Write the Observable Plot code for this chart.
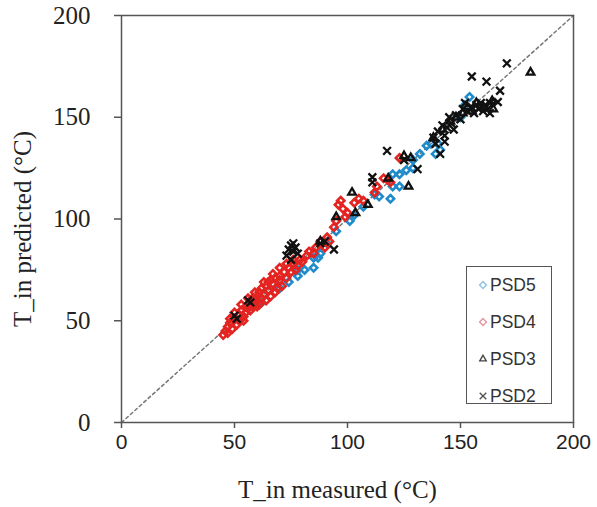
<!DOCTYPE html>
<html>
<head>
<meta charset="utf-8">
<script src="https://cdn.jsdelivr.net/npm/d3@7"></script>
<script src="https://cdn.jsdelivr.net/npm/@observablehq/plot@0.6"></script>
<style>
  html, body { margin: 0; padding: 0; background: #fff; }
  #wrap { position: relative; width: 597px; height: 507px; }
  #legend { position: absolute; left: 466px; top: 266px; width: 84px; height: 136px;
    border: 1.5px solid #555; background: #fff; font-family: "Liberation Sans", Arial, sans-serif;
    font-size: 17.5px; color: #333; }
  #legend .row { position: absolute; left: 0; height: 20px; display: flex; align-items: center; }
  #legend svg { margin-left: 11px; margin-right: 2px; }
</style>
</head>
<body>
<div id="wrap"></div>
<script>
const xTicks = [0, 50, 100, 150, 200];
const yTicks = [0, 50, 100, 150, 200];
const seriesNames = ["PSD5", "PSD4", "PSD3", "PSD2"];
const xTitle = "T_in measured (°C)";
const yTitle = "T_in predicted (°C)";

// [measured, predicted]
const psd5 = [[62,59],[70,66],[74,69],[78,72],[78,75],[81,75],[85,76],[87,81],[85,81],[88,83],[91,88],[95,94],
  [101,99],[103,102],[107,106],[112,112],[114,111],[119,110],[120,116],[123,116],[120,122],[123,122],[126,124],
  [129,125],[129,129],[132,132],[135,136],[137,137],[140,137],[139,132],[141,134],[150,150],[154,160],[152,156]];
const psd4 = [[45,43],[46,45],[47,47],[48,49],[49,46],[50,51],[51,48],[52,53],[52,50],[53,55],[54,52],[55,57],
  [55,54],[56,56],[57,59],[57,55],[58,61],[58,57],[59,58],[60,62],[60,60],[61,64],[61,58],[62,66],[62,61],[63,63],
  [64,67],[64,60],[65,65],[65,69],[66,70],[66,62],[67,68],[68,71],[68,64],[69,66],[70,72],[70,70],[71,67],[72,74],
  [73,71],[74,76],[75,74],[76,78],[77,75],[78,77],[79,80],[80,79],[82,82],[83,84],[85,83],[86,86],[88,89],[90,86],
  [91,91],[92,89],[94,96],[95,99],[96,107],[97,109],[98,105],[99,101],[100,103],[103,108],[105,110],[107,109],
  [112,113],[113,116],[116,120],[118,119],[119,118],[123,130],
  [48,51],[50,54],[53,58],[56,61],[59,64],[63,69],[67,73],[70,76],[73,78],[76,80],[47,44],[54,50],[60,57]];
const psd3 = [[88,89],[95,101],[102,113],[103.5,103],[109,107],[118,120],[125,131],[128,130],[127,116],[138,140],
  [142,144],[145.5,148],[148,150],[151,152],[153,155],[155,153],[157,157],[160,155],[164.5,154],[164,158],[181,172]];
const psd2 = [[50,52.5],[51,51],[56,60],[57,59],[73,82],[74,85],[75,87],[76,84],[77,86],[75,80],[78,83],[76,88],
  [88,88],[90,89],[94,85],[111,120.5],[111,118],[117.5,133.5],[131,124.5],[125,129],[138,140],[140,143],[141,132],
  [142,146],[143,141],[144,145],[145,150],[146,147],[148,151],[150,149],[151,154],[152,157],[153,153],[155,155],
  [156,152],[157,156],[158,154],[159,157],[160,153],[161,156],[162,154],[163,157],[155,170],[161.5,167.5],
  [166.5,157.5],[167.5,163],[170.5,176.5],[163,152],[147,144],[143,138],[139,137]];
const diagonal = [[0,0],[200,200]];

const colors = {PSD5: "#1f8bcb", PSD4: "#e42421", PSD3: "#111", PSD2: "#111"};

const chart = Plot.plot({
  width: 597, height: 507,
  marginLeft: 121, marginRight: 24, marginTop: 15, marginBottom: 85,
  x: {domain: [0, 200]},
  y: {domain: [0, 200]},
  style: {background: "#fff"},
  marks: [
    Plot.line(diagonal, {x: d => d[0], y: d => d[1], stroke: "#777", strokeWidth: 1.5, strokeDasharray: "3,3"}),
    Plot.dot(psd5, {x: d => d[0], y: d => d[1], symbol: "diamond2", r: 3.3, stroke: colors.PSD5, strokeWidth: 2.6}),
    Plot.dot(psd4, {x: d => d[0], y: d => d[1], symbol: "diamond2", r: 3.3, stroke: colors.PSD4, strokeWidth: 2.6}),
    Plot.dot(psd3, {x: d => d[0], y: d => d[1], symbol: "triangle2", r: 3.6, stroke: colors.PSD3, strokeWidth: 2.3}),
    Plot.dot(psd2, {x: d => d[0], y: d => d[1], symbol: "times", r: 3.6, stroke: colors.PSD2, strokeWidth: 2.3}),
    Plot.frame({stroke: "#555", strokeWidth: 1.5}),
    Plot.axisX({ticks: xTicks, tickSize: 6, tickPadding: 6, label: null, fontSize: 21,
      fontFamily: "Liberation Sans", stroke: "#555", strokeWidth: 1.5, color: "#222"}),
    Plot.axisY({ticks: yTicks, tickSize: 7, tickPadding: 24, label: null, fontSize: 25,
      fontFamily: "Liberation Serif", stroke: "#555", strokeWidth: 1.5, color: "#222"}),
    Plot.text([xTitle], {text: d => d, frameAnchor: "bottom", textAnchor: "middle", dx: -10, dy: 75, fontSize: 25,
      fontFamily: "Liberation Serif", fill: "#222"}),
    Plot.text([yTitle], {text: d => d, frameAnchor: "left", textAnchor: "middle", rotate: -90, dx: -99, dy: 10, fontSize: 25,
      fontFamily: "Liberation Serif", fill: "#222"})
  ]
});

const wrap = document.getElementById("wrap");
wrap.appendChild(chart);

// legend
const legend = document.createElement("div");
legend.id = "legend";
wrap.appendChild(legend);
const legendSymbols = {PSD5: ["diamond2", "#8fc3e0"], PSD4: ["diamond2", "#e895a2"], PSD3: ["triangle2", "#444"], PSD2: ["times", "#555"]};
const rowTops = [8, 45, 82, 119];
seriesNames.forEach((name, i) => {
  const row = document.createElement("div");
  row.className = "row";
  row.style.top = rowTops[i] + "px";
  const [sym, col] = legendSymbols[name];
  const s = d3.create("svg").attr("width", 10).attr("height", 10);
  const symType = {diamond2: d3.symbolDiamond2, triangle2: d3.symbolTriangle2, times: d3.symbolTimes}[sym];
  s.append("path").attr("transform", "translate(5,5)")
    .attr("d", d3.symbol(symType, 30)())
    .attr("fill", "none").attr("stroke", col).attr("stroke-width", 1.4);
  row.appendChild(s.node());
  const t = document.createElement("span");
  t.textContent = name;
  row.appendChild(t);
  legend.appendChild(row);
});
</script>
</body>
</html>
